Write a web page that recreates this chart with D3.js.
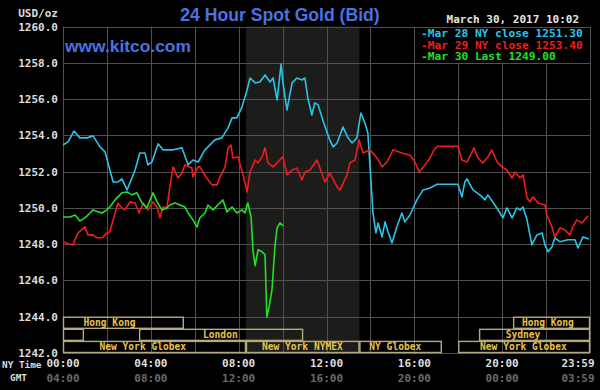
<!DOCTYPE html>
<html>
<head>
<meta charset="utf-8">
<script src="https://cdn.jsdelivr.net/npm/d3@7"></script>
<style>
  body { margin: 0; background: #000; }
  svg { display: block; }
  .mono { font-family: 'DejaVu Sans Mono', monospace; font-weight: bold; }
  .brand { font-family: 'Liberation Sans', Arial, sans-serif; font-weight: bold; fill: #4a72e4; }
</style>
</head>
<body>
<div id="chart"></div>
<script>
// [minutes after 00:00 NY time, USD/oz]
const mar28 = [[0,1253.47],[14,1253.64],[30,1254.24],[46,1253.86],[66,1253.86],[82,1253.97],[101,1253.36],[115,1253.09],[128,1252.09],[137,1251.43],[150,1251.43],[161,1251.60],[175,1250.99],[183,1251.38],[197,1252.09],[210,1253.03],[224,1253.03],[232,1252.37],[243,1252.53],[260,1253.53],[273,1253.20],[301,1253.20],[325,1253.31],[342,1252.37],[355,1252.64],[369,1252.53],[388,1253.20],[415,1253.75],[434,1253.86],[451,1254.41],[462,1254.96],[475,1254.96],[489,1255.56],[503,1256.50],[511,1257.16],[525,1256.89],[538,1256.94],[552,1257.33],[566,1256.94],[574,1257.16],[585,1255.95],[596,1257.93],[601,1256.89],[612,1255.40],[626,1256.89],[639,1257.16],[653,1257.05],[661,1257.16],[669,1256.06],[680,1255.12],[688,1255.79],[697,1255.68],[710,1254.85],[721,1254.19],[729,1253.75],[738,1253.36],[749,1253.58],[765,1254.46],[779,1253.86],[790,1253.58],[803,1253.86],[814,1255.23],[825,1254.68],[833,1254.13],[839,1252.26],[847,1249.72],[855,1248.62],[861,1249.17],[872,1248.40],[880,1249.23],[888,1248.68],[899,1248.07],[912,1248.95],[926,1249.72],[934,1249.23],[948,1249.61],[967,1250.44],[984,1250.99],[1003,1251.10],[1022,1251.30],[1079,1251.30],[1090,1250.61],[1098,1251.43],[1104,1251.60],[1120,1250.99],[1139,1250.72],[1153,1250.44],[1161,1250.72],[1180,1250.16],[1194,1249.72],[1202,1249.45],[1213,1250.00],[1227,1249.45],[1240,1250.00],[1249,1249.89],[1257,1250.05],[1268,1249.34],[1281,1247.96],[1295,1248.51],[1309,1248.62],[1317,1247.96],[1325,1247.58],[1336,1247.85],[1344,1248.35],[1358,1248.13],[1380,1248.24],[1399,1248.24],[1407,1247.79],[1421,1248.40],[1437,1248.29]];

const mar29 = [[0,1248.13],[14,1248.02],[27,1247.96],[41,1248.62],[60,1248.95],[68,1248.51],[82,1248.51],[93,1248.35],[107,1248.35],[120,1248.62],[128,1248.68],[137,1249.34],[150,1250.27],[161,1250.00],[169,1249.89],[183,1250.33],[197,1250.27],[208,1249.72],[219,1250.27],[232,1249.89],[246,1250.33],[257,1250.05],[265,1249.45],[273,1250.05],[284,1250.00],[292,1251.16],[301,1252.26],[314,1251.65],[325,1251.93],[333,1252.37],[352,1252.20],[355,1251.71],[369,1252.26],[374,1252.26],[393,1251.65],[407,1251.27],[421,1251.27],[429,1251.71],[443,1252.26],[451,1253.31],[459,1253.47],[464,1252.75],[478,1252.81],[492,1251.82],[503,1250.88],[511,1251.98],[525,1252.64],[533,1252.48],[544,1252.81],[552,1253.31],[560,1252.48],[574,1252.26],[587,1252.53],[601,1252.81],[612,1251.82],[626,1252.09],[639,1252.20],[653,1251.54],[661,1251.98],[675,1252.09],[694,1252.64],[702,1252.20],[716,1251.43],[729,1251.93],[749,1251.16],[757,1250.99],[776,1251.82],[784,1252.48],[798,1252.64],[809,1253.75],[820,1253.03],[839,1253.20],[858,1252.75],[872,1252.26],[885,1252.53],[902,1253.20],[926,1253.03],[948,1252.92],[962,1252.53],[973,1251.98],[989,1252.37],[1003,1252.75],[1011,1253.09],[1022,1253.40],[1079,1253.40],[1090,1252.64],[1104,1252.53],[1123,1253.31],[1134,1252.75],[1147,1252.48],[1161,1252.81],[1172,1253.20],[1186,1252.53],[1199,1252.26],[1213,1252.09],[1227,1251.65],[1235,1251.98],[1249,1251.65],[1257,1251.82],[1268,1250.55],[1276,1250.33],[1284,1250.61],[1298,1250.27],[1317,1250.16],[1322,1249.61],[1336,1248.95],[1344,1248.40],[1358,1248.90],[1371,1248.79],[1385,1248.51],[1393,1248.95],[1404,1249.34],[1418,1249.17],[1434,1249.56]];

const mar30 = [[0,1249.50],[19,1249.50],[33,1249.61],[46,1249.28],[60,1249.45],[74,1249.72],[82,1249.89],[96,1249.78],[107,1249.72],[120,1249.89],[128,1250.05],[142,1250.44],[161,1250.83],[175,1250.88],[189,1250.72],[202,1250.83],[216,1250.27],[229,1250.00],[238,1250.44],[246,1250.83],[257,1250.33],[270,1249.89],[284,1250.00],[292,1250.16],[306,1250.27],[320,1250.16],[333,1250.05],[342,1249.72],[355,1249.34],[366,1248.95],[374,1249.45],[388,1249.72],[396,1250.16],[410,1249.89],[423,1250.16],[437,1250.44],[448,1249.78],[462,1250.05],[475,1249.72],[489,1249.89],[497,1249.72],[505,1250.27],[514,1249.50],[519,1247.69],[525,1246.81],[533,1247.69],[544,1247.58],[552,1247.41],[557,1243.99],[563,1244.54],[571,1245.48],[579,1247.85],[585,1248.90],[593,1249.17],[602,1249.00]];

const seriesNames = ['-Mar 28 NY close 1251.30', '-Mar 29 NY close 1253.40', '-Mar 30 Last 1249.00'];
const seriesColors = ['#2bc4e8', '#f01c1c', '#22e022'];

const priceTicks = [1242, 1244, 1246, 1248, 1250, 1252, 1254, 1256, 1258, 1260];
const hourGrid = [0, 120, 240, 360, 480, 600, 720, 840, 960, 1080, 1200, 1320, 1440];
const timeTicks = [0, 240, 480, 720, 960, 1200, 1439];
const nyLabels = ['00:00', '04:00', '08:00', '12:00', '16:00', '20:00', '23:59'];
const gmtLabels = ['04:00', '08:00', '12:00', '16:00', '20:00', '00:00', '03:59'];

// trading sessions: row, start, end, label, where the label sits (minutes)
const sessions = [
  { row: 0, start: 0, end: 330, label: 'Hong Kong', at: 127 },
  { row: 0, start: 1230, end: 1440, label: 'Hong Kong', at: 1325 },
  { row: 1, start: 0, end: 57, label: '', at: 0 },
  { row: 1, start: 208, end: 656, label: 'London', at: 430 },
  { row: 1, start: 1137, end: 1440, label: 'Sydney', at: 1257 },
  { row: 2, start: 0, end: 500, label: 'New York Globex', at: 218 },
  { row: 2, start: 500, end: 810, label: 'New York NYMEX', at: 654 },
  { row: 2, start: 810, end: 1035, label: 'NY Globex', at: 908 },
  { row: 2, start: 1080, end: 1440, label: 'New York Globex', at: 1258 }
];
const nymexHours = [500, 810];

const W = 600, H = 390;
const x = d3.scaleLinear().domain([0, 1440]).range([63, 590]);
const y = d3.scaleLinear().domain([1242, 1260]).range([353, 26.5]);
const rowBand = d3.scaleBand().domain([0, 1, 2]).range([y(1244), y(1242)]);

const svg = d3.select('#chart').append('svg')
  .attr('width', W).attr('height', H)
  .style('background', '#000');

// NYMEX open hours shading
svg.append('rect')
  .attr('x', x(nymexHours[0]))
  .attr('y', y(1260))
  .attr('width', x(nymexHours[1]) - x(nymexHours[0]))
  .attr('height', y(1242) - y(1260))
  .attr('fill', '#1c1d1a');

// grid
const grid = svg.append('g').attr('stroke', '#505050').attr('stroke-width', 1);
grid.selectAll('.hline').data(priceTicks).enter().append('line')
  .attr('x1', x(0)).attr('x2', x(1440))
  .attr('y1', d => Math.round(y(d)) + 0.5).attr('y2', d => Math.round(y(d)) + 0.5);
grid.selectAll('.vline').data(hourGrid).enter().append('line')
  .attr('y1', y(1260)).attr('y2', y(1242))
  .attr('x1', d => Math.round(x(d)) + 0.5).attr('x2', d => Math.round(x(d)) + 0.5);

// legend cell, black over the grid
svg.append('rect')
  .attr('x', Math.round(x(960)) + 0.5)
  .attr('y', Math.round(y(1260)) + 0.5)
  .attr('width', Math.round(x(1440)) - Math.round(x(960)))
  .attr('height', Math.round(y(1258)) - Math.round(y(1260)))
  .attr('fill', '#000')
  .attr('stroke', '#505050');

// session boxes
const sess = svg.append('g');
sess.selectAll('rect').data(sessions).enter().append('rect')
  .attr('x', d => x(d.start) + 0.5)
  .attr('y', d => rowBand(d.row) + 0.5)
  .attr('width', d => x(d.end) - x(d.start) - 1)
  .attr('height', rowBand.bandwidth() - 1)
  .attr('fill', 'none')
  .attr('stroke', '#b4ab7c')
  .attr('stroke-width', 1.4);
sess.selectAll('text').data(sessions).enter().append('text')
  .attr('class', 'mono')
  .attr('x', d => x(d.at))
  .attr('y', d => rowBand(d.row) + rowBand.bandwidth() / 2 + 3.5)
  .attr('text-anchor', 'middle')
  .attr('font-size', 9.6)
  .attr('font-weight', 'normal')
  .attr('fill', '#e8c24c')
  .text(d => d.label);

// price lines
const line = d3.line().x(d => x(d[0])).y(d => y(d[1]));
[mar28, mar29, mar30].forEach((series, i) => {
  svg.append('path')
    .datum(series)
    .attr('fill', 'none')
    .attr('stroke', seriesColors[i])
    .attr('stroke-width', 1.6)
    .attr('stroke-linejoin', 'round')
    .attr('d', line);
});

// y axis labels
const yAxis = svg.append('g')
  .attr('transform', `translate(${x(0)},0)`)
  .call(d3.axisLeft(y).tickValues(priceTicks).tickSize(0).tickPadding(5)
    .tickFormat(d => d.toFixed(1)));
yAxis.select('.domain').remove();
yAxis.selectAll('text')
  .attr('class', 'mono')
  .attr('font-size', 11)
  .attr('fill', '#dcdcdc');

svg.append('text').attr('class', 'mono')
  .attr('x', 58).attr('y', 17).attr('text-anchor', 'end')
  .attr('font-size', 11).attr('fill', '#dcdcdc')
  .text('USD/oz');

// time labels
const tl = svg.append('g');
tl.selectAll('.ny').data(timeTicks).enter().append('text')
  .attr('class', 'mono')
  .attr('x', (d, i) => i === timeTicks.length - 1 ? x(d) + 5 : x(d))
  .attr('y', 367)
  .attr('text-anchor', (d, i) => i === timeTicks.length - 1 ? 'end' : 'middle')
  .attr('font-size', 11)
  .attr('fill', '#dedede')
  .text((d, i) => nyLabels[i]);
tl.selectAll('.gmt').data(timeTicks).enter().append('text')
  .attr('class', 'mono')
  .attr('x', (d, i) => i === timeTicks.length - 1 ? x(d) + 5 : x(d))
  .attr('y', 382)
  .attr('text-anchor', (d, i) => i === timeTicks.length - 1 ? 'end' : 'middle')
  .attr('font-size', 11)
  .attr('fill', '#6a6a6a')
  .text((d, i) => gmtLabels[i]);

svg.append('text').attr('class', 'mono')
  .attr('x', 2).attr('y', 368)
  .attr('font-size', 9.4).attr('font-weight', 'normal').attr('fill', '#dcdcdc')
  .text('NY Time');
svg.append('text').attr('class', 'mono')
  .attr('x', 10).attr('y', 381)
  .attr('font-size', 9.4).attr('font-weight', 'normal').attr('fill', '#dcdcdc')
  .text('GMT');

// titles
svg.append('text').attr('class', 'brand')
  .attr('x', 280).attr('y', 21)
  .attr('text-anchor', 'middle')
  .attr('font-size', 17.6)
  .text('24 Hour Spot Gold (Bid)');
svg.append('text').attr('class', 'brand')
  .attr('x', 65).attr('y', 52)
  .attr('font-size', 17.4)
  .text('www.kitco.com');
svg.append('text').attr('class', 'mono')
  .attr('x', 579).attr('y', 23)
  .attr('text-anchor', 'end')
  .attr('font-size', 11).attr('fill', '#e6e6e6')
  .text('March 30, 2017 10:02');

// legend
svg.append('g').selectAll('text').data(seriesNames).enter().append('text')
  .attr('class', 'mono')
  .attr('x', 421)
  .attr('y', (d, i) => 37 + i * 11.6)
  .attr('font-size', 11.2)
  .attr('fill', (d, i) => seriesColors[i])
  .text(d => d);
</script>
</body>
</html>
